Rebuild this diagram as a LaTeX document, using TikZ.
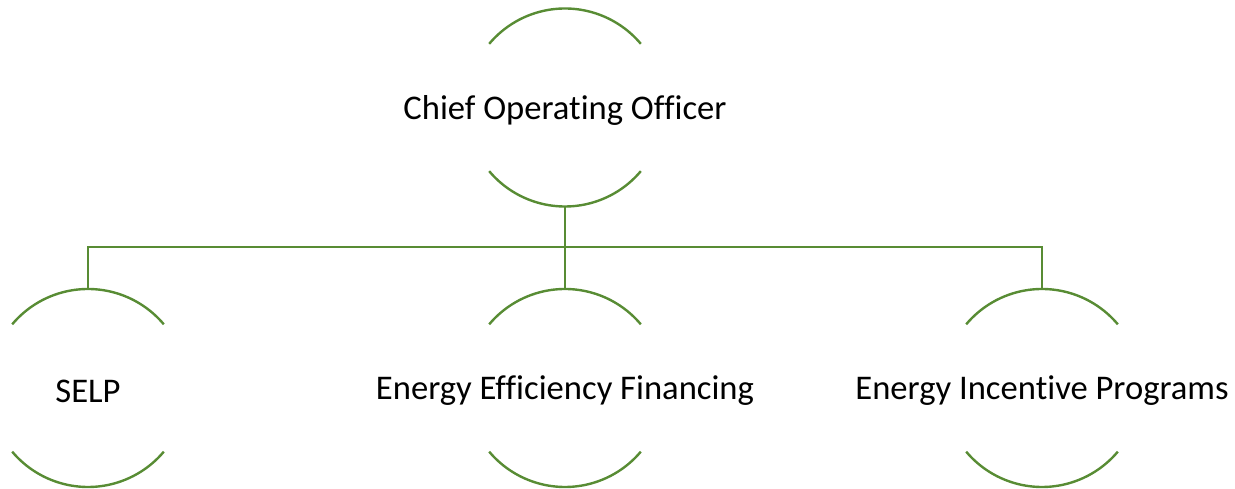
\documentclass[tikz,border=0pt]{standalone}
\usepackage{fontspec}
\setmainfont{Carlito}[Ligatures=NoCommon]
\definecolor{orggreen}{RGB}{88,140,52}
\tikzset{
    unit/.style={circle, minimum size=198pt, inner sep=0pt, outer sep=0pt},
    link/.style={draw=orggreen, line width=2.4pt},
    every label/.style={font=\fontsize{34.6}{40}\selectfont, inner sep=0pt, yshift=-3pt}
}
\begin{document}
\begin{tikzpicture}[x=1pt,y=1pt]
        \useasboundingbox (0,0) rectangle (1235,489);

        %%%%%%%%%% Nodi %%%%%%%%%%
        \node[unit, label=center:{Chief Operating Officer}] (coo) at (565,381.5) {};
        \node[unit, label=center:{SELP}] (selp) at (88,101) {};
        \node[unit, label=center:{Energy Efficiency Financing}] (eef) at (565,101) {};
        \node[unit, label=center:{Energy Incentive Programs}] (eip) at (1042,101) {};

        %%%%%%%%%% Archi %%%%%%%%%%
        \foreach \n in {coo,selp,eef,eip} {
            \draw[link] (\n.40) arc[start angle=40, end angle=140, radius=99pt];
            \draw[link] (\n.220) arc[start angle=220, end angle=320, radius=99pt];
        }

        %%%%%%%%% Collegamenti %%%%%%%%
        \coordinate (bus) at (565,242);
        \draw[link] (coo.south) -- (bus);
        \draw[link] (bus) -| (selp.north);
        \draw[link] (bus) -- (eef.north);
        \draw[link] (bus) -| (eip.north);
    \end{tikzpicture}
\end{document}
